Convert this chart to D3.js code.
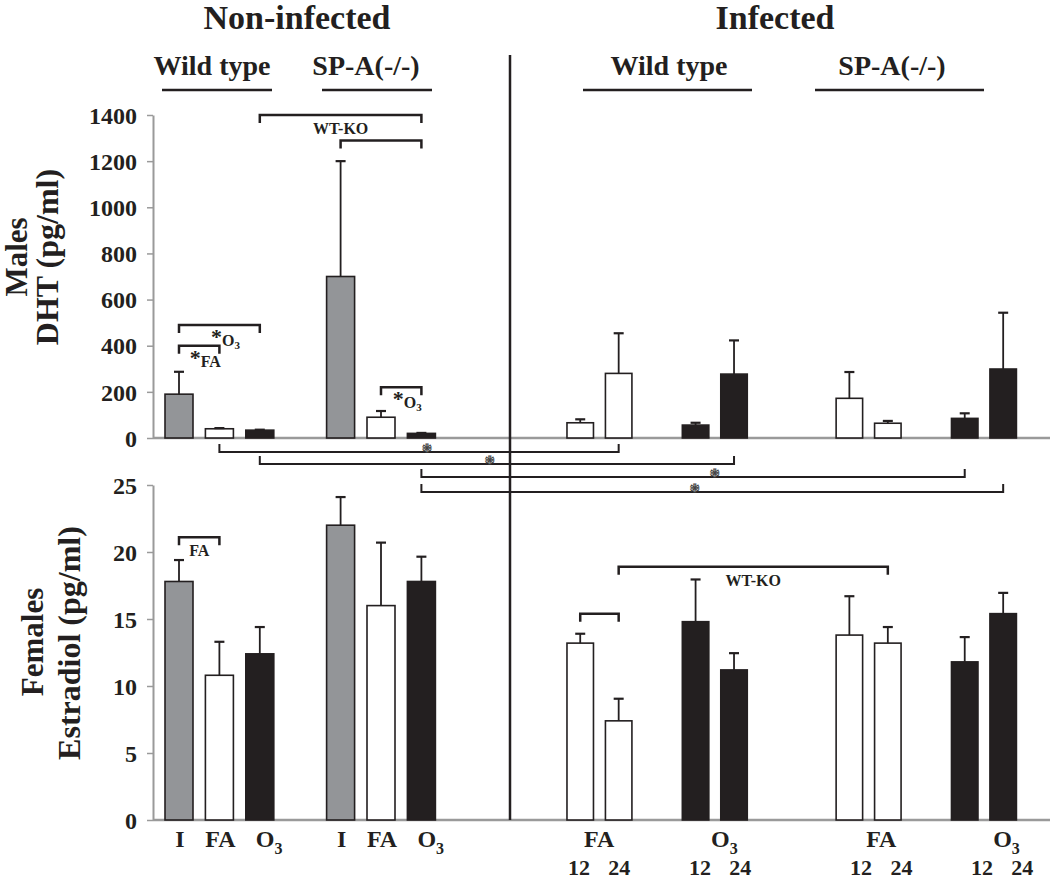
<!DOCTYPE html>
<html>
<head>
<meta charset="utf-8">
<script src="https://cdn.jsdelivr.net/npm/d3@7"></script>
<style>
  body { margin: 0; background: #fff; }
  svg { display: block; }
  text { font-family: "Liberation Serif", "Times New Roman", serif; font-weight: bold; fill: #231f20; }
</style>
</head>
<body>
<div id="chart"></div>
<script>
// ---- data ----
var nonInfKeys  = ["WT-I", "WT-FA", "WT-O3", "KO-I", "KO-FA", "KO-O3"];
var nonInfTreat = ["I", "FA", "O3", "I", "FA", "O3"];
var nonInfDHT    = [190, 40, 34, 700, 90, 20];
var nonInfDHTErr = [97, 3, 2, 500, 27, 2];
var nonInfE2     = [17.8, 10.8, 12.4, 22.0, 16.0, 17.8];
var nonInfE2Err  = [1.6, 2.5, 2.0, 2.1, 4.7, 1.85];

var infKeys  = ["WT-FA-12", "WT-FA-24", "WT-O3-12", "WT-O3-24", "KO-FA-12", "KO-FA-24", "KO-O3-12", "KO-O3-24"];
var infTreat = ["FA", "FA", "O3", "O3", "FA", "FA", "O3", "O3"];
var infHours = ["12", "24", "12", "24", "12", "24", "12", "24"];
var infDHT    = [66, 280, 56, 277, 172, 64, 85, 299];
var infDHTErr = [15, 174, 10, 146, 114, 10, 22, 244];
var infE2     = [13.2, 7.4, 14.8, 11.2, 13.8, 13.2, 11.8, 15.4];
var infE2Err  = [0.7, 1.65, 3.15, 1.25, 2.9, 1.2, 1.85, 1.55];

var dhtTicks = [0, 200, 400, 600, 800, 1000, 1200, 1400];
var e2Ticks  = [0, 5, 10, 15, 20, 25];

// significance brackets (height in data units)
var dhtBrackets = [
    {from: "WT-O3", to: "KO-O3", at: 1400, label: "WT-KO"},
    {from: "KO-I",  to: "KO-O3", at: 1290, label: ""},
    {from: "WT-I",  to: "WT-O3", at: 490,  label: "*O3"},
    {from: "WT-I",  to: "WT-FA", at: 400,  label: "*FA"},
    {from: "KO-FA", to: "KO-O3", at: 220,  label: "*O3"}
];
var e2Brackets = [
    {from: "WT-I",     to: "WT-FA",    at: 21.1, label: "FA"},
    {from: "WT-FA-12", to: "WT-FA-24", at: 15.4, label: ""},
    {from: "WT-FA-24", to: "KO-FA-24", at: 18.9, label: "WT-KO"}
];
// non-infected vs infected links drawn under the DHT panel
var crossLinks = [
    {from: "WT-FA", to: "WT-FA-24"},
    {from: "WT-O3", to: "WT-O3-24"},
    {from: "KO-O3", to: "KO-O3-12"},
    {from: "KO-O3", to: "KO-O3-24"}
];

// ---- layout ----
var width = 1050, height = 879;
var axisX = 153, dividerX = 510;
var fills = {I: "#939598", FA: "#ffffff", O3: "#231f20"};
var ink = "#231f20", axisGrey = "#9a9a9a";

var svg = d3.select("#chart").append("svg")
    .attr("width", width)
    .attr("height", height);

var xL = d3.scaleBand()
    .domain(["WT-I", "WT-FA", "WT-O3", "gapL", "KO-I", "KO-FA", "KO-O3"])
    .range([158.8, 441.6])
    .paddingInner(0.307)
    .paddingOuter(0.1535);

var xR = d3.scaleBand()
    .domain(["WT-FA-12", "WT-FA-24", "g1", "WT-O3-12", "WT-O3-24", "g2", "g3", "KO-FA-12", "KO-FA-24", "g4", "KO-O3-12", "KO-O3-24"])
    .range([561, 1022.4])
    .paddingInner(0.311)
    .paddingOuter(0.1555);

// hour labels sit on a slightly wider grid than the bars
var xLab = d3.scalePoint()
    .domain(xR.domain())
    .range([579, 1022.3]);

function xs(key) { return xL.domain().indexOf(key) >= 0 ? xL : xR; }
function xc(key) { var s = xs(key); return s(key) + s.bandwidth() / 2; }

var yT = d3.scaleLinear().domain([0, 1400]).range([438, 115]);
var yB = d3.scaleLinear().domain([0, 25]).range([820, 485]);

function rows(keys, treat, vals, errs) {
    return keys.map(function(k, i) { return {key: k, treat: treat[i], v: vals[i], e: errs[i]}; });
}

function richLabel(g, x, y, label) {
    var t = g.append("text").attr("x", x).attr("y", y).attr("text-anchor", "middle");
    if (label[0] === "*") {
        t.attr("x", x + 6);
        t.append("tspan").attr("font-size", 22).text("*");
        var rest = label.slice(1);
        if (rest === "O3") {
            t.append("tspan").attr("font-size", 16).attr("dy", 2).text("O");
            t.append("tspan").attr("font-size", 11).attr("dy", 3).text("3");
        } else {
            t.append("tspan").attr("font-size", 16).attr("dy", 2).text(rest);
        }
    } else {
        t.attr("font-size", 16).text(label);
    }
}

function drawPanel(y, ticks, bars, brackets) {
    var g = svg.append("g");

    var axis = g.append("g")
        .attr("transform", "translate(" + axisX + ",0)")
        .call(d3.axisLeft(y).tickValues(ticks).tickFormat(d3.format("d"))
            .tickSize(6).tickSizeOuter(0).tickPadding(10))
        .attr("font-size", 24);
    axis.select(".domain").attr("stroke", axisGrey).attr("stroke-width", 2);
    axis.selectAll(".tick line").attr("stroke", axisGrey).attr("stroke-width", 1.5);
    axis.selectAll(".tick text").attr("dy", "0.34em");

    g.append("line")
        .attr("x1", axisX).attr("x2", width)
        .attr("y1", y(0)).attr("y2", y(0))
        .attr("stroke", axisGrey).attr("stroke-width", 2.5);

    g.selectAll(".bar")
        .data(bars)
        .enter().append("rect")
        .attr("class", "bar")
        .attr("x", function(d) { return xs(d.key)(d.key); })
        .attr("y", function(d) { return y(d.v); })
        .attr("width", function(d) { return xs(d.key).bandwidth(); })
        .attr("height", function(d) { return y(0) - y(d.v); })
        .attr("fill", function(d) { return fills[d.treat]; })
        .attr("stroke", ink)
        .attr("stroke-width", 1.6);

    // error bars (upper only)
    var eb = g.selectAll(".err").data(bars).enter().append("g").attr("class", "err");
    eb.append("line")
        .attr("x1", function(d) { return xc(d.key); })
        .attr("x2", function(d) { return xc(d.key); })
        .attr("y1", function(d) { return y(d.v); })
        .attr("y2", function(d) { return y(d.v + d.e); })
        .attr("stroke", ink).attr("stroke-width", 1.8);
    eb.append("line")
        .attr("x1", function(d) { return xc(d.key) - 5; })
        .attr("x2", function(d) { return xc(d.key) + 5; })
        .attr("y1", function(d) { return y(d.v + d.e); })
        .attr("y2", function(d) { return y(d.v + d.e); })
        .attr("stroke", ink).attr("stroke-width", 2.2);

    brackets.forEach(function(b) {
        var x1 = xc(b.from), x2 = xc(b.to), yy = y(b.at);
        g.append("path")
            .attr("d", "M" + x1 + "," + (yy + 8) + "V" + yy + "H" + x2 + "V" + (yy + 8))
            .attr("fill", "none").attr("stroke", ink).attr("stroke-width", 2.5);
        if (b.label) richLabel(g, (x1 + x2) / 2, yy + 19, b.label);
    });
    return g;
}

drawPanel(yT, dhtTicks,
    rows(nonInfKeys, nonInfTreat, nonInfDHT, nonInfDHTErr).concat(rows(infKeys, infTreat, infDHT, infDHTErr)),
    dhtBrackets);
drawPanel(yB, e2Ticks,
    rows(nonInfKeys, nonInfTreat, nonInfE2, nonInfE2Err).concat(rows(infKeys, infTreat, infE2, infE2Err)),
    e2Brackets);

// links under the DHT baseline
var linkDrop = [14, 26, 39, 54];
var linkStar = [0.52, 0.485, 0.54, 0.47];
crossLinks.forEach(function(l, i) {
    var x1 = xc(l.from), x2 = xc(l.to), yy = yT(0) + linkDrop[i];
    svg.append("path")
        .attr("d", "M" + x1 + "," + (yy - 8) + "V" + yy + "H" + x2 + "V" + (yy - 8))
        .attr("fill", "none").attr("stroke", ink).attr("stroke-width", 2);
    svg.append("text")
        .attr("x", x1 + (x2 - x1) * linkStar[i])
        .attr("y", yy + 6)
        .attr("text-anchor", "middle")
        .attr("font-size", 20)
        .style("fill", "#d8d8d8")
        .style("stroke", "#444")
        .style("stroke-width", 0.9)
        .text("*");
});

// divider between non-infected and infected
svg.append("line")
    .attr("x1", dividerX).attr("x2", dividerX)
    .attr("y1", 55).attr("y2", yB(0))
    .attr("stroke", ink).attr("stroke-width", 2.5);

// headers
var headers = [
    {t: "Non-infected", x: 297, y: 29, s: 34},
    {t: "Infected", x: 775, y: 29, s: 34},
    {t: "Wild type", x: 212, y: 75, s: 28},
    {t: "SP-A(-/-)", x: 366, y: 75, s: 28},
    {t: "Wild type", x: 669, y: 75, s: 28},
    {t: "SP-A(-/-)", x: 892, y: 75, s: 28}
];
headers.forEach(function(h) {
    svg.append("text").attr("x", h.x).attr("y", h.y)
        .attr("text-anchor", "middle").attr("font-size", h.s).text(h.t);
});
var underlines = [[162, 272], [322, 432], [583, 752], [815, 984]];
underlines.forEach(function(u) {
    svg.append("line").attr("x1", u[0]).attr("x2", u[1]).attr("y1", 90).attr("y2", 90)
        .attr("stroke", ink).attr("stroke-width", 2.5);
});

// axis titles
function vTitle(x, y, txt, size) {
    svg.append("text")
        .attr("transform", "translate(" + x + "," + y + ") rotate(-90)")
        .attr("text-anchor", "middle").attr("font-size", size).text(txt);
}
vTitle(27, 257, "Males", 31);
vTitle(58, 257, "DHT (pg/ml)", 32);
vTitle(43, 642, "Females", 31);
vTitle(80, 643, "Estradiol (pg/ml)", 32);

// category labels
function oThree(x, y) {
    var t = svg.append("text").attr("x", x - 9).attr("y", y).attr("font-size", 24);
    t.append("tspan").text("O");
    t.append("tspan").attr("font-size", 16).attr("dy", 7).text("3");
}
var labY = 847;
nonInfKeys.forEach(function(k, i) {
    if (nonInfTreat[i] === "O3") oThree(xc(k) + 5, labY);
    else svg.append("text").attr("x", xc(k) + 1).attr("y", labY)
        .attr("text-anchor", "middle").attr("font-size", 24).text(nonInfTreat[i]);
});
for (var i = 0; i < infKeys.length; i += 2) {
    var mid = (xLab(infKeys[i]) + xLab(infKeys[i + 1])) / 2;
    if (infTreat[i] === "O3") oThree(mid, labY);
    else svg.append("text").attr("x", mid).attr("y", labY)
        .attr("text-anchor", "middle").attr("font-size", 24).text(infTreat[i]);
}
infKeys.forEach(function(k, i) {
    svg.append("text").attr("x", xLab(k)).attr("y", 875)
        .attr("text-anchor", "middle").attr("font-size", 22).text(infHours[i]);
});
</script>
</body>
</html>
